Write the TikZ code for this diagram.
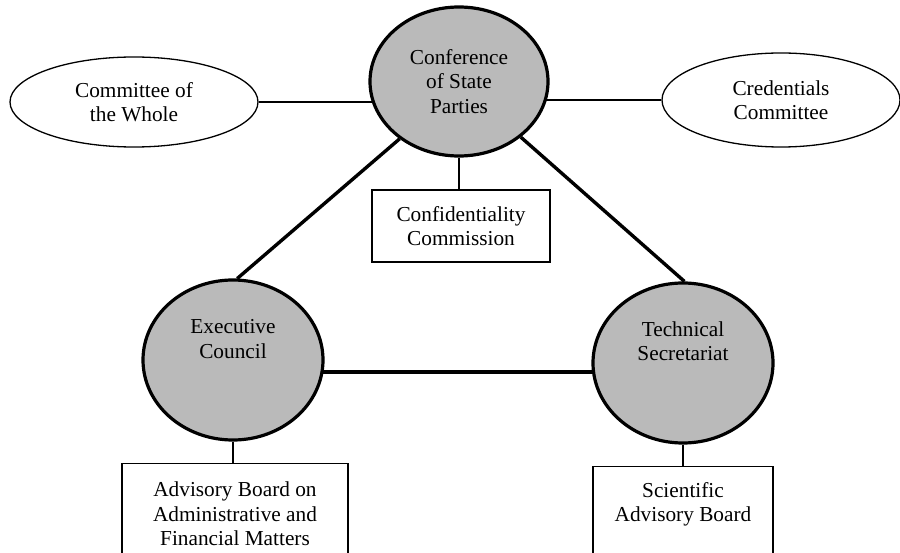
\documentclass[tikz,border=0pt]{standalone}
\usepackage{fontspec}
\setmainfont{Liberation Serif}
\usetikzlibrary{shapes.geometric,backgrounds,calc}
\begin{document}
\begin{tikzpicture}[x=1pt,y=-1pt,
  every node/.style={font=\fontsize{21.3}{24.5}\selectfont, align=center, inner sep=0pt},
  organ/.style={ellipse, draw, line width=3.2pt, fill=black!27},
  forum/.style={ellipse, draw, line width=1.3pt, fill=white},
  panel/.style={rectangle, draw, line width=1.3pt, fill=white},
  thinlink/.style={line width=1.6pt},
  thicklink/.style={line width=3.4pt}]
\useasboundingbox (0,0) rectangle (900,553);
\clip (0,0) rectangle (900,553);

% principal organs
\node[organ, minimum width=178pt, minimum height=149pt] (conf) at (459,81.5) {Conference\\of State\\Parties};
\node[organ, minimum width=180pt, minimum height=160pt] (exec) at (233,360) {};
\node (execlbl) at (233,339) {Executive\\Council};
\node[organ, minimum width=180pt, minimum height=160pt] (tech) at (683,363) {};
\node (techlbl) at (683,341) {Technical\\Secretariat};

% subsidiary bodies of the Conference
\node[forum, minimum width=248pt, minimum height=90pt] (cow) at (134,102) {Committee of\\the Whole};
\node[forum, minimum width=238pt, minimum height=94pt] (cred) at (781,100) {Credentials\\Committee};
\node[panel, minimum width=178pt, minimum height=72pt] (cc) at (461,226) {Confidentiality\\Commission};

% advisory boards (running off the bottom edge)
\node[panel, minimum width=226pt, minimum height=130pt, anchor=north] (abox) at (235,463) {};
\node[anchor=north] (atext) at ($(abox.north)+(0,19)$) {Advisory Board on\\Administrative and\\Financial Matters};
\node[panel, minimum width=180pt, minimum height=130pt, anchor=north] (sbox) at (683,466) {};
\node[anchor=north] (stext) at ($(sbox.north)+(0,16)$) {Scientific\\Advisory Board};

% links hidden behind the shapes
\begin{scope}[on background layer]
  \draw[thinlink] (cow.east) -- (cow.east -| conf.center);
  \draw[thinlink] (cred.west) -- (cred.west -| conf.center);
  \draw[thicklink] ($(exec.center)+(0,12)$) -- ($(tech.center)+(0,9)$);
\end{scope}

% remaining links
\draw[thicklink] (conf.224) -- (exec.87);
\draw[thicklink] (conf.318) -- (tech.89);
\draw[thinlink] (conf.south) -- (conf.south |- cc.north);
\draw[thinlink] (exec.south) -- (exec.south |- abox.north);
\draw[thinlink] (tech.south) -- (tech.south |- sbox.north);
\end{tikzpicture}
\end{document}
